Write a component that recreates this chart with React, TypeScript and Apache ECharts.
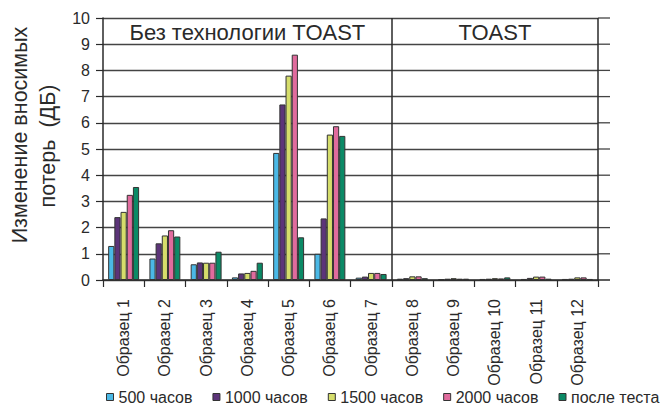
import React, { useEffect, useRef } from "react";
import * as echarts from "echarts";

const categories = [
  "Образец 1", "Образец 2", "Образец 3", "Образец 4", "Образец 5", "Образец 6",
  "Образец 7", "Образец 8", "Образец 9", "Образец 10", "Образец 11", "Образец 12",
];
const seriesNames = ["500 часов", "1000 часов", "1500 часов", "2000 часов", "после теста"];
const s500 = [1.3, 0.82, 0.6, 0.1, 4.85, 1.0, 0.09, 0.05, 0.03, 0.04, 0.04, 0.04];
const s1000 = [2.4, 1.4, 0.67, 0.25, 6.7, 2.35, 0.13, 0.07, 0.05, 0.05, 0.08, 0.05];
const s1500 = [2.6, 1.7, 0.66, 0.27, 7.8, 5.55, 0.27, 0.14, 0.07, 0.07, 0.13, 0.1];
const s2000 = [3.25, 1.9, 0.66, 0.35, 8.6, 5.87, 0.27, 0.14, 0.05, 0.06, 0.13, 0.1];
const sAfter = [3.55, 1.66, 1.08, 0.66, 1.63, 5.5, 0.23, 0.07, 0.05, 0.1, 0.05, 0.04];
const colors = ["#4bb9e6", "#5c3479", "#d5dd6b", "#e06b9d", "#0b8a66"];
const groupTitles = ["Без технологии TOAST", "TOAST"];
const yNameLines = ["Изменение вносимых", "потерь  (ДБ)"];
const yTicks = [0, 1, 2, 3, 4, 5, 6, 7, 8, 9, 10];

const FONT = "'Liberation Sans', Arial, sans-serif";
const DARK = "#2a2a2a";

export default function App() {
  const ref = useRef<HTMLDivElement>(null);
  useEffect(() => {
    document.body.style.margin = "0";
    if (!ref.current) return;
    const chart = echarts.init(ref.current, null, { renderer: "svg" });
    const data = [s500, s1000, s1500, s2000, sAfter];
    const barSeries = data.map((d, i) => ({
      name: seriesNames[i],
      type: "bar",
      data: d,
      barGap: "0%",
      barCategoryGap: "25%",
      itemStyle: { color: colors[i], borderColor: "#333", borderWidth: 1 },
      xAxisIndex: 0,
      yAxisIndex: 0,
    }));
    const option: any = {
      animation: false,
      textStyle: { fontFamily: FONT },
      grid: { left: 103, right: 68, top: 18, bottom: 125, containLabel: false, outerBoundsMode: "none" },
      legend: {
        data: seriesNames,
        left: 106,
        top: 389,
        width: 600,
        padding: 0,
        itemWidth: 7,
        itemHeight: 7,
        itemGap: 20,
        icon: "rect",
        textStyle: { fontSize: 16, color: DARK, fontFamily: FONT },
        itemStyle: { borderColor: "#333", borderWidth: 1 },
      },
      xAxis: [
        {
          type: "category",
          data: categories,
          axisLine: { lineStyle: { color: DARK, width: 1.5 } },
          axisTick: { show: true, length: 7, lineStyle: { color: DARK, width: 1.2 } },
          axisLabel: { rotate: 90, fontSize: 16, color: DARK, margin: 19, fontFamily: FONT },
          splitLine: { show: false },
        },
        {
          type: "value",
          min: 0,
          max: 12,
          show: false,
          position: "bottom",
        },
      ],
      yAxis: {
        type: "value",
        min: 0,
        max: 10,
        interval: 1,
        axisLine: { show: true, lineStyle: { color: DARK, width: 1.5 } },
        axisTick: { show: true, length: 7, lineStyle: { color: DARK, width: 1.2 } },
        axisLabel: { fontSize: 16, color: DARK, margin: 13, fontFamily: FONT },
        splitLine: { show: true, lineStyle: { color: "#444", width: 1.3 } },
      },
      series: [
        ...barSeries,
        {
          type: "line",
          xAxisIndex: 1,
          yAxisIndex: 0,
          data: [],
          silent: true,
          markLine: {
            silent: true,
            symbol: "none",
            label: { show: false },
            lineStyle: { color: DARK, width: 1.5, type: "solid" },
            data: [{ xAxis: 7 }, { xAxis: 12 }],
          },
        },
      ],
    };
    chart.setOption(option);

    const graphics: any[] = [];
    const yMid = (chart.convertToPixel({ yAxisIndex: 0 }, 9.5) as number);
    const leftCenter = chart.convertToPixel({ xAxisIndex: 1 }, 3.5) as number;
    const rightCenter = chart.convertToPixel({ xAxisIndex: 1 }, 9.5) as number;
    const xEnd = chart.convertToPixel({ xAxisIndex: 1 }, 12) as number;
    [leftCenter, rightCenter].forEach((cx, i) => {
      graphics.push({
        type: "text",
        x: cx,
        y: yMid + 1,
        style: {
          text: groupTitles[i],
          fontSize: 22,
          fontFamily: FONT,
          fill: DARK,
          align: "center",
          verticalAlign: "middle",
        },
      });
    });
    const nameX = [20, 48];
    const nameY = [135, 146];
    yNameLines.forEach((t, i) => {
      graphics.push({
        type: "text",
        x: nameX[i],
        y: nameY[i],
        rotation: Math.PI / 2,
        style: {
          text: t,
          fontSize: 21.5,
          fontFamily: FONT,
          fill: DARK,
          align: "center",
          verticalAlign: "middle",
        },
      });
    });
    yTicks.forEach((v) => {
      const py = chart.convertToPixel({ yAxisIndex: 0 }, v) as number;
      graphics.push({
        type: "line",
        shape: { x1: xEnd, y1: py, x2: xEnd + 12, y2: py },
        style: { stroke: v === 0 ? DARK : "#444", lineWidth: v === 0 ? 1.5 : 1.3 },
      });
    });
    chart.setOption({ graphic: graphics });

    return () => chart.dispose();
  }, []);
  return <div ref={ref} style={{ width: 666, height: 405 }} />;
}
